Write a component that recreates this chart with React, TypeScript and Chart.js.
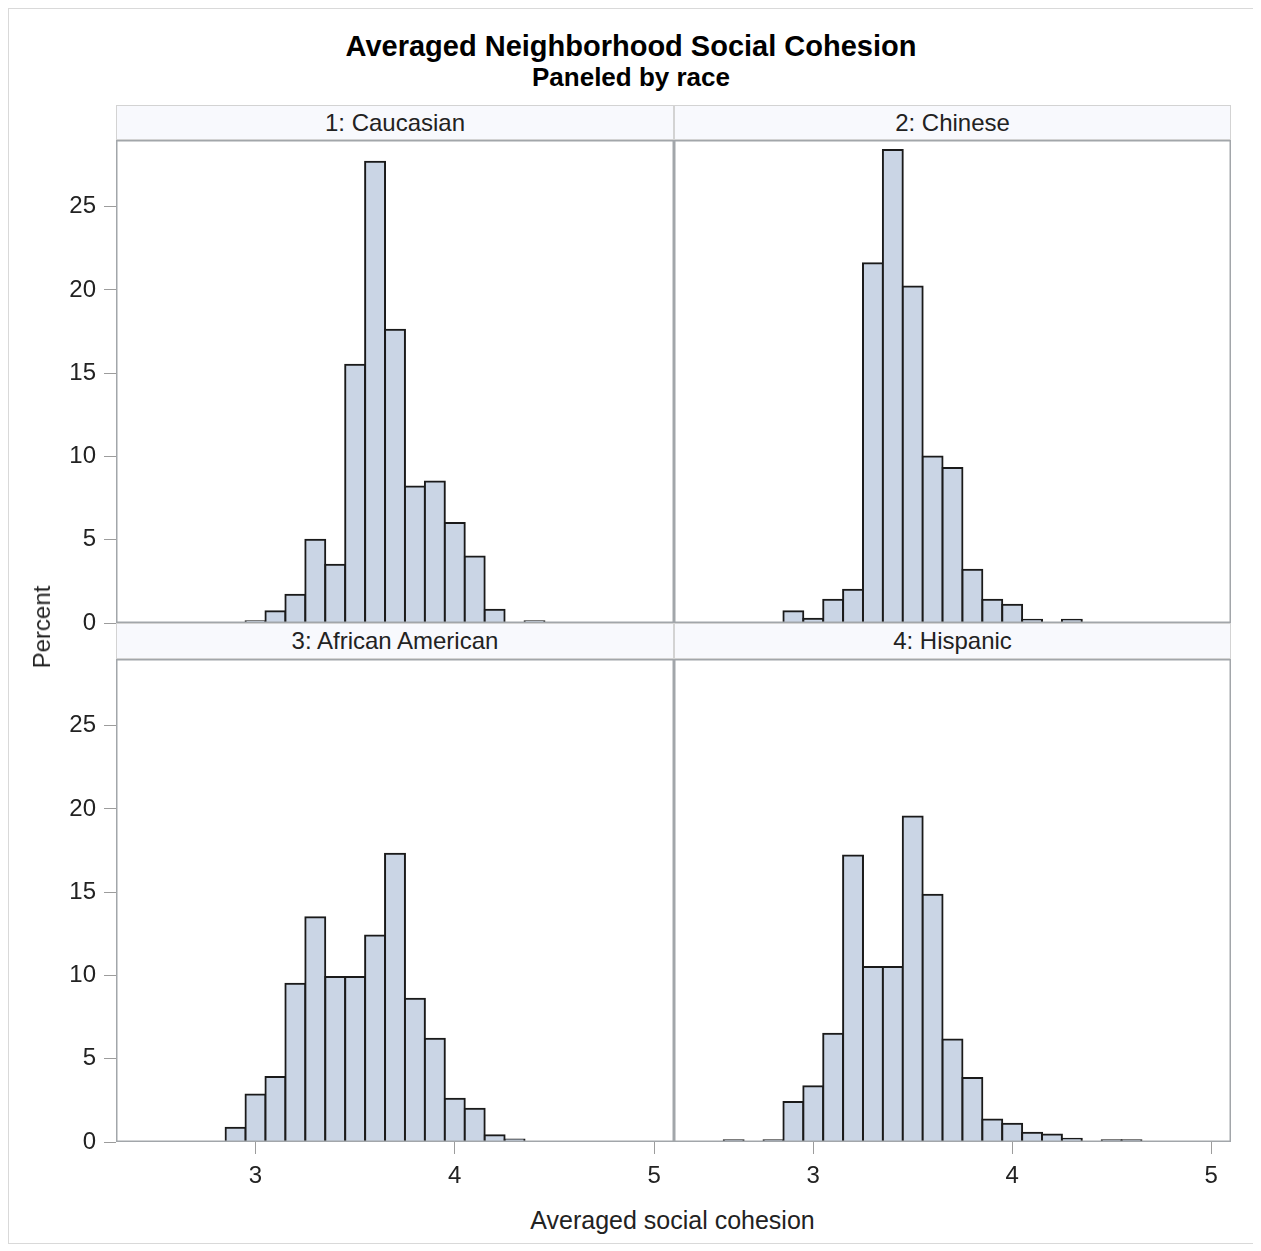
import React, { useEffect, useRef } from 'react';
import { Chart, registerables } from 'chart.js';

Chart.register(...registerables);

// ---------------- data ----------------
const CHART_TITLE = 'Averaged Neighborhood Social Cohesion';
const CHART_SUBTITLE = 'Paneled by race';
const X_AXIS_TITLE = 'Averaged social cohesion';
const Y_AXIS_TITLE = 'Percent';

const PANEL_NAMES = ['1: Caucasian', '2: Chinese', '3: African American', '4: Hispanic'];

const X_TICK_VALUES = [3, 4, 5];
const Y_TICK_VALUES = [0, 5, 10, 15, 20, 25];
const X_MIN = 2.3;
const X_MAX = 5.1;
const Y_MIN = 0;
const Y_MAX = 29;

const CAUCASIAN_BINS = [3.0, 3.1, 3.2, 3.3, 3.4, 3.5, 3.6, 3.7, 3.8, 3.9, 4.0, 4.1, 4.2, 4.3, 4.4];
const CAUCASIAN_PCT = [0.1, 0.7, 1.7, 5.0, 3.5, 15.5, 27.7, 17.6, 8.2, 8.5, 6.0, 4.0, 0.8, 0, 0.1];

const CHINESE_BINS = [2.9, 3.0, 3.1, 3.2, 3.3, 3.4, 3.5, 3.6, 3.7, 3.8, 3.9, 4.0, 4.1, 4.2, 4.3];
const CHINESE_PCT = [0.7, 0.25, 1.4, 2.0, 21.6, 28.4, 20.2, 10.0, 9.3, 3.2, 1.4, 1.1, 0.2, 0, 0.2];

const AFRICAN_AMERICAN_BINS = [2.9, 3.0, 3.1, 3.2, 3.3, 3.4, 3.5, 3.6, 3.7, 3.8, 3.9, 4.0, 4.1, 4.2, 4.3];
const AFRICAN_AMERICAN_PCT = [0.85, 2.85, 3.9, 9.5, 13.5, 9.9, 9.9, 12.4, 17.3, 8.6, 6.2, 2.6, 2.0, 0.4, 0.15];

const HISPANIC_BINS = [2.6, 2.7, 2.8, 2.9, 3.0, 3.1, 3.2, 3.3, 3.4, 3.5, 3.6, 3.7, 3.8, 3.9, 4.0, 4.1, 4.2, 4.3, 4.4, 4.5, 4.6];
const HISPANIC_PCT = [0.1, 0, 0.1, 2.4, 3.35, 6.5, 17.2, 10.5, 10.5, 19.55, 14.85, 6.15, 3.85, 1.35, 1.1, 0.55, 0.45, 0.2, 0, 0.1, 0.1];

// ---------------- styles ----------------
const FONT = '"Liberation Sans", Arial, Helvetica, sans-serif';
const TEXT_COLOR = '#222222';
const BAR_FILL = '#CAD5E5';
const BAR_EDGE = '#1A1A1A';
const FRAME_COLOR = '#A2A6AA';
const TICK_COLOR = '#9C9C9C';
const HEADER_FILL = '#F8F9FD';
const HEADER_BORDER = '#D3D3D3';

const plotFrame = {
  id: 'plotFrame',
  afterDatasetsDraw(chart: any) {
    const { ctx, chartArea: a } = chart;
    ctx.save();
    ctx.strokeStyle = FRAME_COLOR;
    ctx.lineWidth = 1.5;
    ctx.strokeRect(a.left + 0.75, a.top + 0.75, a.right - a.left - 1.5, a.bottom - a.top - 1.5);
    ctx.restore();
  },
};

type PanelProps = {
  bins: number[];
  values: number[];
  showX: boolean;
  showY: boolean;
  left: number;
  top: number;
  width: number;
  height: number;
  padTop: number;
  padBottom: number;
};

function Panel({ bins, values, showX, showY, left, top, width, height, padTop, padBottom }: PanelProps) {
  const ref = useRef<HTMLCanvasElement>(null);

  useEffect(() => {
    const canvas = ref.current;
    if (!canvas) return;

    const xScale: any = {
      type: 'linear',
      min: X_MIN,
      max: X_MAX,
      offset: false,
      display: showX,
      afterBuildTicks: (s: any) => {
        s.ticks = X_TICK_VALUES.map((v) => ({ value: v }));
      },
      grid: {
        display: true,
        drawOnChartArea: false,
        drawTicks: true,
        tickLength: 12,
        color: TICK_COLOR,
        lineWidth: 1,
        offset: false,
      },
      border: { display: false },
      ticks: {
        color: TEXT_COLOR,
        font: { size: 24, family: FONT },
        padding: 8,
        maxRotation: 0,
        minRotation: 0,
        autoSkip: false,
        callback: (v: any) => String(v),
      },
    };
    if (showX) {
      xScale.afterFit = (s: any) => {
        s.height = 58;
        s.paddingLeft = 0;
        s.paddingRight = 0;
      };
    }

    const yScale: any = {
      type: 'linear',
      min: Y_MIN,
      max: Y_MAX,
      display: showY,
      afterBuildTicks: (s: any) => {
        s.ticks = Y_TICK_VALUES.map((v) => ({ value: v }));
      },
      grid: {
        display: true,
        drawOnChartArea: false,
        drawTicks: true,
        tickLength: 12,
        color: TICK_COLOR,
        lineWidth: 1,
      },
      border: { display: false },
      ticks: {
        color: TEXT_COLOR,
        font: { size: 24, family: FONT },
        padding: 8,
        autoSkip: false,
        callback: (v: any) => String(v),
      },
    };
    if (showY) {
      yScale.afterFit = (s: any) => {
        s.width = 108;
        s.paddingTop = 0;
        s.paddingBottom = 0;
      };
    }

    const chart = new Chart(canvas, {
      type: 'bar',
      data: {
        datasets: [
          {
            data: bins.map((b, i) => ({ x: b, y: values[i] })),
            backgroundColor: BAR_FILL,
            borderColor: BAR_EDGE,
            borderWidth: 2,
            inflateAmount: 1,
            borderSkipped: 'start',
            barPercentage: 1,
            categoryPercentage: 1,
          } as any,
        ],
      },
      options: {
        animation: false,
        responsive: false,
        events: [],
        layout: { padding: { top: padTop, bottom: padBottom, left: 0, right: 0 } },
        plugins: {
          legend: { display: false },
          tooltip: { enabled: false },
          title: { display: false },
        },
        scales: { x: xScale, y: yScale },
      } as any,
      plugins: [plotFrame],
    });

    return () => chart.destroy();
  }, []);

  return (
    <canvas
      ref={ref}
      width={width}
      height={height}
      style={{ position: 'absolute', left, top, width, height, display: 'block' }}
    />
  );
}

function Header({ text, left, top, width, height }: { text: string; left: number; top: number; width: number; height: number }) {
  return (
    <div
      style={{
        position: 'absolute',
        left,
        top,
        width,
        height,
        boxSizing: 'border-box',
        background: HEADER_FILL,
        border: `1px solid ${HEADER_BORDER}`,
        display: 'flex',
        alignItems: 'center',
        justifyContent: 'center',
        fontSize: 24,
        lineHeight: 1,
        color: TEXT_COLOR,
        whiteSpace: 'nowrap',
      }}
    >
      {text}
    </div>
  );
}

export default function App() {
  return (
    <div style={{ position: 'relative', width: 1246, height: 1236, fontFamily: FONT, background: '#ffffff' }}>
      <div
        style={{
          position: 'absolute',
          left: 0,
          top: 0,
          width: 1246,
          height: 1236,
          boxSizing: 'border-box',
          border: '1px solid #D9D9D9',
        }}
      />
      <div
        style={{
          position: 'absolute',
          left: 0,
          top: 24,
          width: 1246,
          textAlign: 'center',
          fontSize: 29,
          fontWeight: 'bold',
          lineHeight: 1,
          color: '#000',
          whiteSpace: 'nowrap',
        }}
      >
        {CHART_TITLE}
      </div>
      <div
        style={{
          position: 'absolute',
          left: 0,
          top: 56,
          width: 1246,
          textAlign: 'center',
          fontSize: 26,
          fontWeight: 'bold',
          lineHeight: 1,
          color: '#000',
          whiteSpace: 'nowrap',
        }}
      >
        {CHART_SUBTITLE}
      </div>

      <Header text={PANEL_NAMES[0]} left={108} top={97} width={558} height={35} />
      <Header text={PANEL_NAMES[1]} left={666} top={97} width={557} height={35} />
      <Header text={PANEL_NAMES[2]} left={108} top={615} width={558} height={36} />
      <Header text={PANEL_NAMES[3]} left={666} top={615} width={557} height={36} />

      <Panel bins={CAUCASIAN_BINS} values={CAUCASIAN_PCT} showX={false} showY={true}
        left={0} top={112} width={666} height={520} padTop={20} padBottom={17} />
      <Panel bins={CHINESE_BINS} values={CHINESE_PCT} showX={false} showY={false}
        left={666} top={112} width={557} height={520} padTop={20} padBottom={17} />
      <Panel bins={AFRICAN_AMERICAN_BINS} values={AFRICAN_AMERICAN_PCT} showX={true} showY={true}
        left={0} top={632} width={666} height={560} padTop={19} padBottom={0} />
      <Panel bins={HISPANIC_BINS} values={HISPANIC_PCT} showX={true} showY={false}
        left={666} top={632} width={557} height={560} padTop={19} padBottom={0} />

      <div
        style={{
          position: 'absolute',
          left: 34.3,
          top: 619,
          transform: 'translate(-50%, -50%) rotate(-90deg)',
          fontSize: 24,
          lineHeight: 1,
          color: TEXT_COLOR,
          whiteSpace: 'nowrap',
        }}
      >
        {Y_AXIS_TITLE}
      </div>
      <div
        style={{
          position: 'absolute',
          left: 664.5,
          top: 1199.8,
          transform: 'translateX(-50%)',
          fontSize: 25,
          lineHeight: 1,
          color: TEXT_COLOR,
          whiteSpace: 'nowrap',
        }}
      >
        {X_AXIS_TITLE}
      </div>
    </div>
  );
}
